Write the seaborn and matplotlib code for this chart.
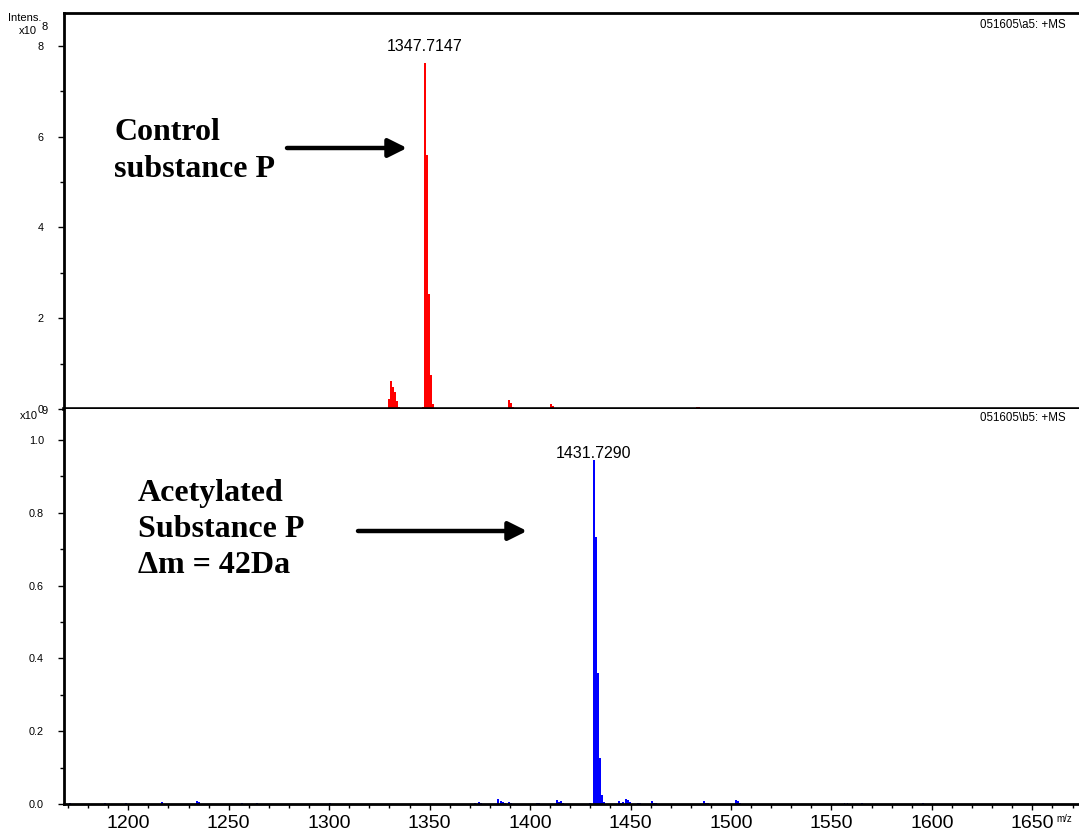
import numpy as np
import pandas as pd
import matplotlib
matplotlib.use("Agg")
import matplotlib.pyplot as plt
from matplotlib.ticker import MultipleLocator
import seaborn as sns

# ---------------- data ----------------
# Control substance P (intensity in units of 1e8)
ctrl_mz = [1300.1, 1329.7, 1330.7, 1331.7, 1332.7, 1333.7, 1334.7,
           1346.7, 1347.7147, 1348.72, 1349.72, 1350.72, 1351.72,
           1361.5, 1363.5, 1389.7, 1390.7, 1391.7, 1410.4, 1411.5,
           1483.0, 1484.0]
ctrl_int = [0.02, 0.22, 0.62, 0.48, 0.37, 0.18, 0.05,
            0.04, 7.62, 5.59, 2.53, 0.75, 0.12,
            0.03, 0.03, 0.20, 0.13, 0.04, 0.10, 0.07,
            0.05, 0.05]

# Acetylated substance P (intensity in units of 1e9)
acet_mz = [1171.0, 1188.4, 1199.0, 1216.9, 1234.3, 1235.3, 1256.7, 1264.0,
           1300.4, 1372.6, 1374.5, 1375.7, 1384.0, 1385.5, 1386.6, 1387.7,
           1389.5, 1390.5, 1403.4, 1404.4, 1413.4, 1414.4, 1415.5, 1416.5,
           1429.8, 1431.729, 1432.73, 1433.73, 1434.73, 1435.73, 1436.73,
           1444.2, 1445.3, 1446.2, 1447.7, 1448.7, 1449.7, 1453.8, 1454.8,
           1460.6, 1461.6, 1462.6, 1486.4, 1487.4, 1488.4,
           1502.4, 1503.4, 1504.4, 1556.5, 1558.0, 1565.0, 1595.5]
acet_int = [0.004, 0.004, 0.003, 0.006, 0.009, 0.005, 0.004, 0.003,
            0.004, 0.004, 0.005, 0.004, 0.014, 0.009, 0.005, 0.003,
            0.006, 0.003, 0.004, 0.004, 0.011, 0.006, 0.008, 0.004,
            0.004, 0.945, 0.733, 0.360, 0.126, 0.025, 0.006,
            0.008, 0.004, 0.006, 0.014, 0.012, 0.006, 0.004, 0.004,
            0.007, 0.004, 0.004, 0.008, 0.004, 0.002,
            0.011, 0.008, 0.004, 0.003, 0.003, 0.003, 0.002]

ctrl_label = "1347.7147"
acet_label = "1431.7290"
x_range = (1168.0, 1673.2)

# ---------------- style ----------------
sns.set_style("ticks")
plt.rcParams['font.family'] = ['Liberation Sans', 'DejaVu Sans']
plt.rcParams['text.color'] = 'black'
plt.rcParams['xtick.color'] = 'black'
plt.rcParams['ytick.color'] = 'black'
plt.rcParams['axes.edgecolor'] = 'black'
plt.rcParams['axes.labelcolor'] = 'black'

W, H = 1079, 835
fig = plt.figure(figsize=(W / 100, H / 100), dpi=100)

def fx(px):
    return px / W

def fy(py):
    return 1 - py / H

left = fx(64)
ax1 = fig.add_axes([left, fy(409), 1 - left, fy(13) - fy(409)])
ax2 = fig.add_axes([left, fy(804), 1 - left, fy(409) - fy(804)])

df1 = pd.DataFrame({"mz": ctrl_mz, "intensity": ctrl_int})
df2 = pd.DataFrame({"mz": acet_mz, "intensity": acet_int})

sns.barplot(data=df1, x="mz", y="intensity", native_scale=True, errorbar=None,
            color="#ff0000", saturation=1, width=1.0, linewidth=0, ax=ax1)
sns.barplot(data=df2, x="mz", y="intensity", native_scale=True, errorbar=None,
            color="#0000ff", saturation=1, width=1.0, linewidth=0, ax=ax2)

for ax in (ax1, ax2):
    ax.set_xlim(*x_range)
    ax.set_xlabel("")
    ax.set_ylabel("")
    ax.spines["right"].set_visible(False)
    for s in ("left", "bottom", "top"):
        ax.spines[s].set_linewidth(2.0)
        ax.spines[s].set_color("black")
    ax.tick_params(axis="y", which="major", length=4.5, width=1.0, pad=10,
                   labelsize=7.8, colors="black")
    ax.tick_params(axis="y", which="minor", length=3, width=1.0, colors="black")
    ax.set_facecolor("white")

ax1.set_ylim(0, 8.72)
ax1.yaxis.set_major_locator(MultipleLocator(2))
ax1.yaxis.set_minor_locator(MultipleLocator(1))
ax1.yaxis.set_major_formatter(plt.FuncFormatter(lambda v, p: f"{v:.0f}"))
ax1.tick_params(axis="x", which="both", bottom=False, labelbottom=False)
ax1.spines["bottom"].set_linewidth(2.6)

ax2.set_ylim(0, 1.085)
ax2.spines["top"].set_visible(False)
ax2.yaxis.set_major_locator(MultipleLocator(0.2))
ax2.yaxis.set_minor_locator(MultipleLocator(0.1))
ax2.yaxis.set_major_formatter(plt.FuncFormatter(lambda v, p: f"{v:.1f}"))
ax2.xaxis.set_major_locator(MultipleLocator(50))
ax2.xaxis.set_minor_locator(MultipleLocator(10))
ax2.xaxis.set_major_formatter(plt.FuncFormatter(lambda v, p: f"{v:.0f}"))
ax2.tick_params(axis="x", which="major", length=4.5, width=1.0, pad=3.5,
                labelsize=14, colors="black")
ax2.tick_params(axis="x", which="minor", length=3, width=1.0, colors="black")

# peak labels
ax1.text(1347.7147, 7.98, ctrl_label, ha="center", va="center", fontsize=11.5,
         color="black")
ax2.text(1431.729, 0.963, acet_label, ha="center", va="center", fontsize=11.5,
         color="black")

# scale labels
small = dict(ha="center", va="center", fontsize=8, color="black")
fig.text(fx(25), fy(18), "Intens.", **small)
fig.text(fx(28), fy(31), "x10", **small)
fig.text(fx(45), fy(27), "8", **small)
fig.text(fx(29), fy(416), "x10", **small)
fig.text(fx(45), fy(411), "9", **small)
fig.text(fx(1066), fy(25), "051605\\a5: +MS", ha="right", va="center",
         fontsize=8.3, color="black")
fig.text(fx(1066), fy(418), "051605\\b5: +MS", ha="right", va="center",
         fontsize=8.3, color="black")
fig.text(fx(1064), fy(819), "m/z", ha="center", va="center", fontsize=7,
         color="black")

# annotation texts
serif = dict(family=["Liberation Serif", "DejaVu Serif"], fontweight="bold",
             fontsize=23, va="baseline", ha="left", color="black")
fig.text(fx(114), fy(140), "Control", **serif)
fig.text(fx(114), fy(177), "substance P", **serif)
fig.text(fx(138), fy(501), "Acetylated", **serif)
fig.text(fx(138), fy(537), "Substance P", **serif)
fig.text(fx(138), fy(573), "\u0394m = 42Da", **serif)

arrow = dict(arrowstyle="-|>,head_length=0.4,head_width=0.2", lw=3.2,
             color="black", mutation_scale=28, shrinkA=0, shrinkB=0)
fig.add_artist(matplotlib.patches.FancyArrowPatch(
    (fx(287), fy(148)), (fx(407), fy(148)), transform=fig.transFigure, **arrow))
fig.add_artist(matplotlib.patches.FancyArrowPatch(
    (fx(358), fy(531)), (fx(527), fy(531)), transform=fig.transFigure, **arrow))

fig.savefig("out.png", dpi=100, facecolor="white")
